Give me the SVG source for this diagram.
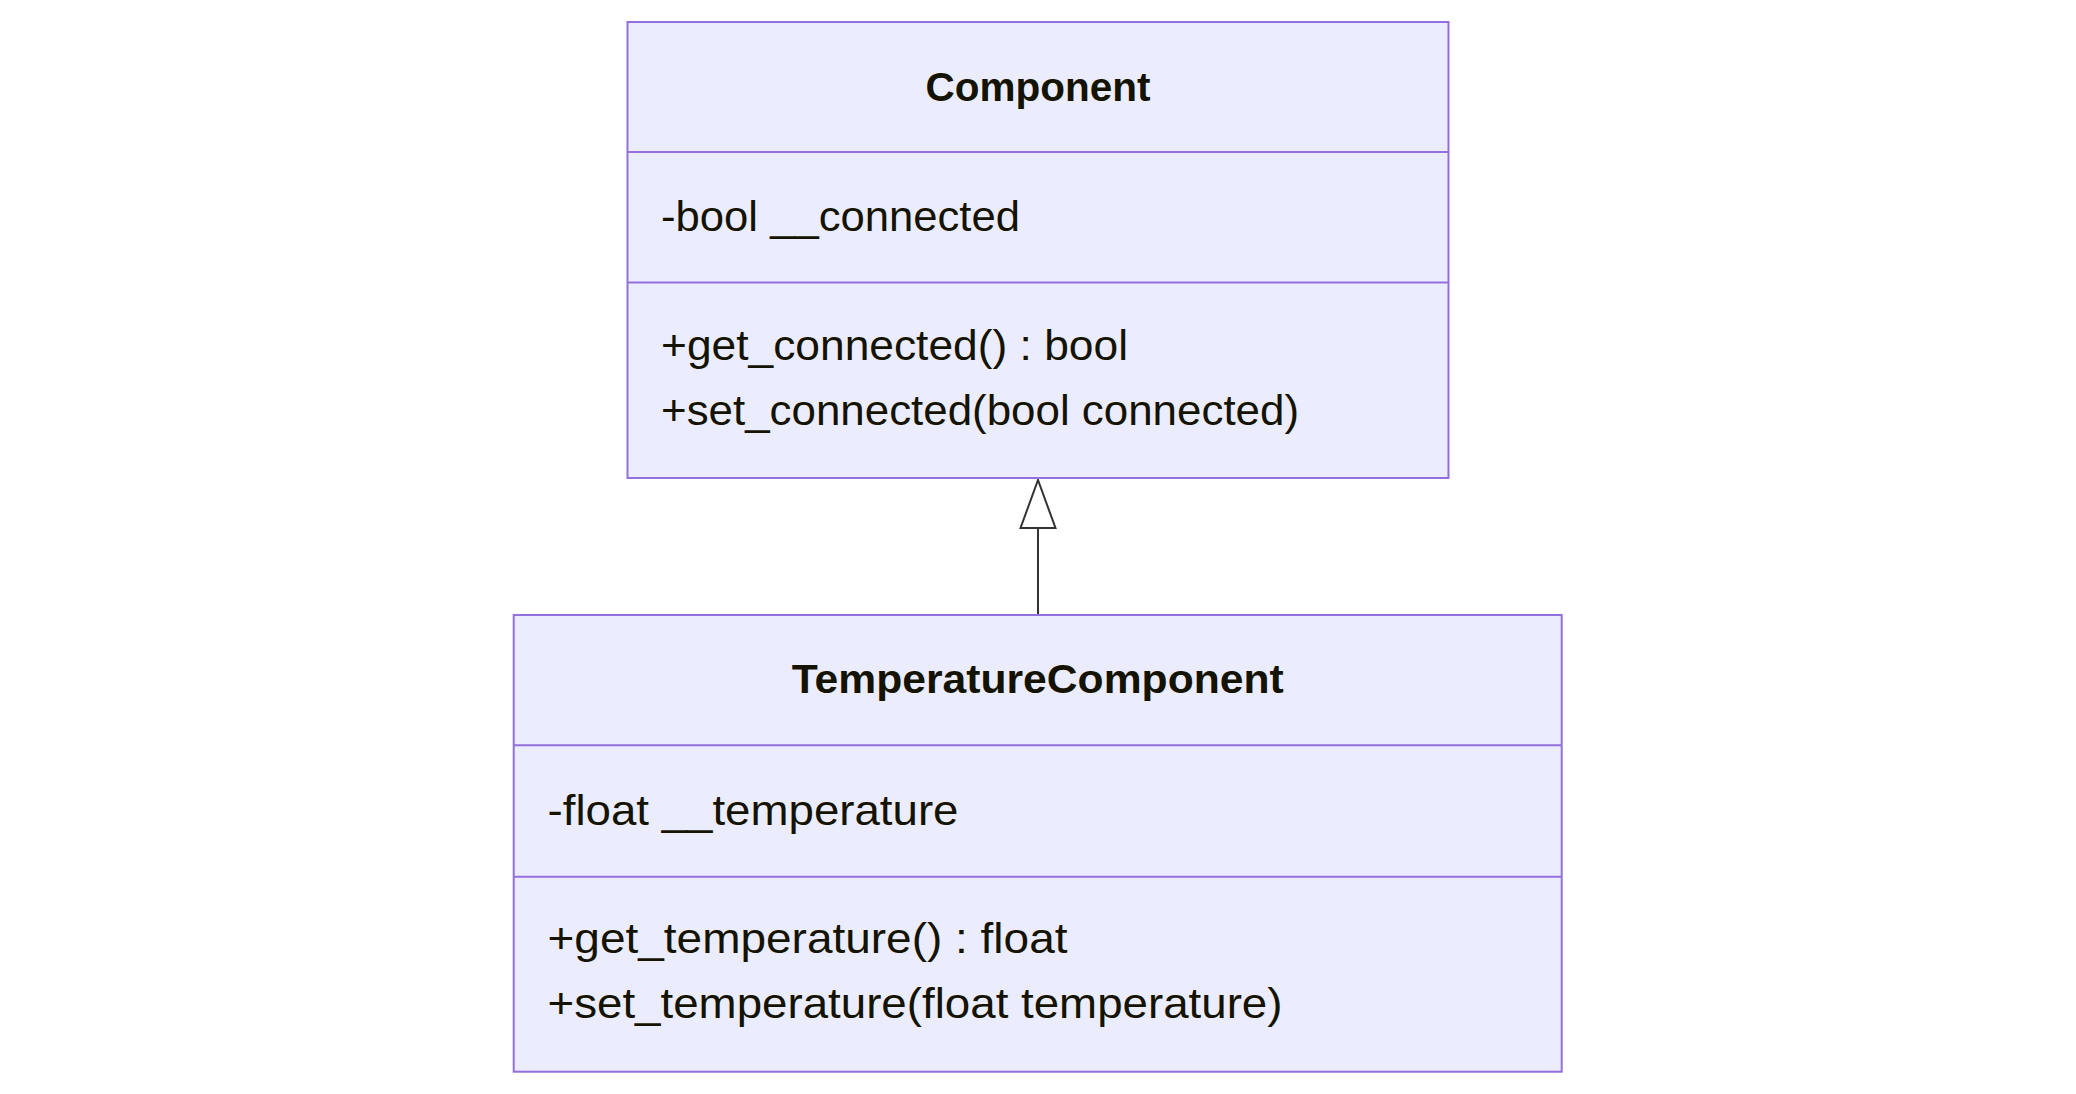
<svg xmlns="http://www.w3.org/2000/svg" width="2076" height="1094" viewBox="0 0 2076 1094">
<style>
.box{fill:#ECECFF;stroke:#9370DB;stroke-width:2}
.div{stroke:#9370DB;stroke-width:2}
.title{font-family:"Liberation Sans",Arial,sans-serif;font-weight:bold;font-size:41px;fill:#131300;text-anchor:middle}
.txt{font-family:"Liberation Sans",Arial,sans-serif;font-size:43px;fill:#131300}
.edge{stroke:#333333;stroke-width:2;fill:none}
</style>
<defs>
<marker id="ext" markerUnits="userSpaceOnUse" viewBox="-2 -20 52 40" refX="0" refY="0" markerWidth="52" markerHeight="40" orient="auto">
<path d="M0,-17.5 L48,0 L0,17.5 Z" fill="#ffffff" stroke="#333333" stroke-width="2"/>
</marker>
</defs>
<rect width="2076" height="1094" fill="#ffffff"/>
<g id="edges">
<line class="edge" x1="1038" y1="614" x2="1038" y2="528" marker-end="url(#ext)"/>
</g>
<g id="Component">
<rect class="box" x="627.5" y="22" width="821" height="456"/>
<line class="div" x1="627.5" y1="152" x2="1448.5" y2="152"/>
<line class="div" x1="627.5" y1="282.5" x2="1448.5" y2="282.5"/>
<text class="title" x="1038" y="100.5" textLength="225" lengthAdjust="spacingAndGlyphs">Component</text>
<text class="txt" x="661" y="230.7" textLength="359" lengthAdjust="spacingAndGlyphs">-bool __connected</text>
<text class="txt" x="661" y="360" textLength="467" lengthAdjust="spacingAndGlyphs">+get_connected() : bool</text>
<text class="txt" x="661" y="425" textLength="638" lengthAdjust="spacingAndGlyphs">+set_connected(bool connected)</text>
</g>
<g id="TemperatureComponent">
<rect class="box" x="513.7" y="615" width="1048" height="456.7"/>
<line class="div" x1="513.7" y1="745.3" x2="1561.7" y2="745.3"/>
<line class="div" x1="513.7" y1="876.7" x2="1561.7" y2="876.7"/>
<text class="title" x="1037.7" y="693.3" textLength="492" lengthAdjust="spacingAndGlyphs">TemperatureComponent</text>
<text class="txt" x="547.5" y="825" textLength="411" lengthAdjust="spacingAndGlyphs">-float __temperature</text>
<text class="txt" x="547.5" y="953.3" textLength="520" lengthAdjust="spacingAndGlyphs">+get_temperature() : float</text>
<text class="txt" x="547.5" y="1018.3" textLength="735" lengthAdjust="spacingAndGlyphs">+set_temperature(float temperature)</text>
</g>
</svg>
